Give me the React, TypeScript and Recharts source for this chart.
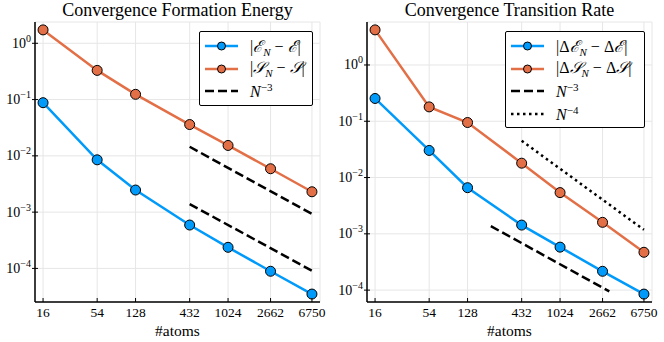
import React from 'react';
import { ComposedChart, Line, XAxis, YAxis, CartesianGrid, Legend } from 'recharts';

const atoms = [16, 54, 128, 432, 1024, 2662, 6750];
const xTicks = [16, 54, 128, 432, 1024, 2662, 6750];

// formation energy errors
const errE = [0.088, 0.0085, 0.00247, 5.9e-4, 2.37e-4, 8.9e-5, 3.5e-5];
const errS = [1.73, 0.33, 0.124, 0.036, 0.0153, 0.0059, 0.0023];

// transition rate errors
const errDE = [0.254, 0.0303, 0.0066, 1.43e-3, 5.8e-4, 2.16e-4, 8.5e-5];
const errDS = [4.2, 0.18, 0.095, 0.018, 5.4e-3, 1.6e-3, 4.7e-4];

// reference slopes (end points)
const guideAX = [432, 6750];
const guideAUpper = [0.0145, 9.3e-4];
const guideALower = [1.39e-3, 9.1e-5];
const guideBX = [216, 3100];
const guideB3 = [1.37e-3, 9.5e-5];
const guideB4X = [432, 6750];
const guideB4 = [0.045, 1.18e-3];

const yTicksLeft = [1e-4, 1e-3, 1e-2, 1e-1, 1];
const yTicksRight = [1e-4, 1e-3, 1e-2, 1e-1, 1];

const BLUE = '#009AFA';
const ORANGE = '#E36F47';
const SERIF = '"Liberation Serif", "DejaVu Serif", serif';

const toPoints = (xs: number[], ys: number[]) => xs.map((x, i) => ({ x, y: ys[i] }));

const PLOT_LEFT = 35;
const PLOT_BOTTOM = 302;

const YTick = (props: any) => {
  const { x, y, payload } = props;
  const exp = Math.round(Math.log10(payload.value));
  const label = exp < 0 ? `\u2212${-exp}` : `${exp}`;
  return (
    <g>
      <line x1={PLOT_LEFT - 3} x2={PLOT_LEFT + 3} y1={y} y2={y} stroke="#000" strokeWidth={1} />
      <text x={x} y={y + 4.5} textAnchor="end" style={{ fontFamily: SERIF, fontSize: 14 }} fill="#000">
        10<tspan dy={-6} style={{ fontSize: 10 }}>{label}</tspan>
      </text>
    </g>
  );
};

const XTick = (props: any) => {
  const { x, y, payload } = props;
  return (
    <g>
      <line x1={x} x2={x} y1={PLOT_BOTTOM - 4} y2={PLOT_BOTTOM} stroke="#000" strokeWidth={1} />
      <text x={x} y={y} dy="0.71em" textAnchor="middle" style={{ fontFamily: SERIF, fontSize: 13.5 }} fill="#000">
        {payload.value}
      </text>
    </g>
  );
};

type Item = { label: React.ReactNode; color: string; kind: 'marker' | 'dash' | 'dot' };

const makeLegend = (items: Item[], width: number) => () => (
  <div
    style={{
      width,
      boxSizing: 'border-box',
      border: '1px solid #000',
      borderRadius: 2,
      background: '#fff',
      padding: '3px 0 2px 0',
      fontFamily: SERIF,
      fontSize: 16,
      color: '#000',
    }}
  >
    {items.map((it, i) => (
      <div key={i} style={{ display: 'flex', alignItems: 'center', height: 22.5 }}>
        <svg width={50} height={12} style={{ flex: 'none' }}>
          {it.kind === 'marker' && (
            <>
              <line x1={5} x2={38} y1={6} y2={6} stroke={it.color} strokeWidth={2.5} />
              <circle cx={21.5} cy={6} r={4} fill={it.color} stroke="#000" strokeWidth={1} />
            </>
          )}
          {it.kind === 'dash' && (
            <line x1={5} x2={38} y1={6} y2={6} stroke="#000" strokeWidth={2.5} strokeDasharray="9 4" />
          )}
          {it.kind === 'dot' && (
            <line x1={5} x2={38} y1={6} y2={6} stroke="#000" strokeWidth={2.5} strokeDasharray="2.5 3.5" />
          )}
        </svg>
        <span style={{ whiteSpace: 'nowrap' }}>{it.label}</span>
      </div>
    ))}
  </div>
);

const Abs = ({ a, b, d }: { a: string; b: string; d?: boolean }) => (
  <span>
    |{d ? '\u0394' : ''}
    <span style={{ fontStyle: 'italic' }}>{a}</span>
    <sub style={{ fontSize: 11, fontStyle: 'italic' }}>N</sub> {'\u2212'} {d ? '\u0394' : ''}
    <span style={{ fontStyle: 'italic' }}>{b}</span>|
  </span>
);

const PowN = ({ p }: { p: number }) => (
  <span>
    <i>N</i>
    <sup style={{ fontSize: 11 }}>{'\u2212'}{p}</sup>
  </span>
);

const legendLeft: Item[] = [
  { label: <Abs a={'\u2130'} b={'\u2130'} />, color: BLUE, kind: 'marker' },
  { label: <Abs a={'\uD835\uDCAE'} b={'\uD835\uDCAE'} />, color: ORANGE, kind: 'marker' },
  { label: <PowN p={3} />, color: '#000', kind: 'dash' },
];

const legendRight: Item[] = [
  { label: <Abs a={'\u2130'} b={'\u2130'} d />, color: BLUE, kind: 'marker' },
  { label: <Abs a={'\uD835\uDCAE'} b={'\uD835\uDCAE'} d />, color: ORANGE, kind: 'marker' },
  { label: <PowN p={3} />, color: '#000', kind: 'dash' },
  { label: <PowN p={4} />, color: '#000', kind: 'dot' },
];

const Panel = ({
  title,
  yDomain,
  yTicks,
  children,
  legend,
  legendPos,
}: {
  title: string;
  yDomain: [number, number];
  yTicks: number[];
  children: React.ReactNode;
  legend: () => React.ReactNode;
  legendPos: { left: number; top: number; width: number };
}) => (
  <div style={{ position: 'relative', width: 332, height: 342 }}>
    <div
      style={{
        position: 'absolute',
        left: 35,
        width: 285,
        top: 0,
        textAlign: 'center',
        fontFamily: SERIF,
        fontSize: 18,
        lineHeight: '20px',
        color: '#000',
        zIndex: 2,
      }}
    >
      {title}
    </div>
    <ComposedChart width={332} height={342} margin={{ top: 22, right: 12, bottom: 0, left: 0 }}>
      <CartesianGrid stroke="#e6e6e6" strokeWidth={1} />
      <XAxis
        dataKey="x"
        type="number"
        scale="log"
        domain={[13.35, 8090]}
        allowDataOverflow
        ticks={xTicks}
        interval={0}
        height={40}
        tickSize={0}
        tickMargin={5}
        tick={<XTick />}
        axisLine={{ stroke: '#000', strokeWidth: 1.5 }}
        label={{
          value: '#atoms',
          position: 'insideBottom',
          offset: 6,
          style: { fontFamily: SERIF, fontSize: 15.5 },
          fill: '#000',
        }}
      />
      <YAxis
        dataKey="y"
        type="number"
        scale="log"
        domain={yDomain}
        allowDataOverflow
        ticks={yTicks}
        interval={0}
        width={35}
        tickSize={4}
        tickMargin={0}
        tickLine={false}
        tick={<YTick />}
        axisLine={{ stroke: '#000', strokeWidth: 1.5 }}
      />
      {children}
      <Legend
        layout="horizontal"
        verticalAlign="middle"
        align="center"
        content={legend}
        wrapperStyle={{ position: 'absolute', left: legendPos.left, top: legendPos.top, width: legendPos.width }}
      />
    </ComposedChart>
  </div>
);

const seriesLine = (key: string, pts: { x: number; y: number }[], color: string) => (
  <Line
    key={key}
    data={pts}
    dataKey="y"
    stroke={color}
    strokeWidth={2.5}
    dot={{ r: 5, fill: color, stroke: '#000', strokeWidth: 1 }}
    activeDot={false}
    isAnimationActive={false}
    legendType="none"
  />
);

const guideLine = (key: string, pts: { x: number; y: number }[], dash: string) => (
  <Line
    key={key}
    data={pts}
    dataKey="y"
    stroke="#000"
    strokeWidth={2.5}
    strokeDasharray={dash}
    dot={false}
    activeDot={false}
    isAnimationActive={false}
    legendType="none"
  />
);

export default function App() {
  return (
    <div
      style={{
        position: 'absolute',
        left: 0,
        top: 0,
        width: 664,
        height: 342,
        display: 'flex',
        background: '#fff',
      }}
    >
      <Panel
        title="Convergence Formation Energy"
        yDomain={[2.53e-5, 2.39]}
        yTicks={yTicksLeft}
        legend={makeLegend(legendLeft, 114)}
        legendPos={{ left: 199, top: 31, width: 114 }}
      >
        {seriesLine('e', toPoints(atoms, errE), BLUE)}
        {seriesLine('s', toPoints(atoms, errS), ORANGE)}
        {guideLine('ga1', toPoints(guideAX, guideAUpper), '9 4')}
        {guideLine('ga2', toPoints(guideAX, guideALower), '9 4')}
      </Panel>
      <Panel
        title="Convergence Transition Rate"
        yDomain={[6.15e-5, 5.8]}
        yTicks={yTicksRight}
        legend={makeLegend(legendRight, 140)}
        legendPos={{ left: 173, top: 31, width: 140 }}
      >
        {seriesLine('de', toPoints(atoms, errDE), BLUE)}
        {seriesLine('ds', toPoints(atoms, errDS), ORANGE)}
        {guideLine('gb3', toPoints(guideBX, guideB3), '9 4')}
        {guideLine('gb4', toPoints(guideB4X, guideB4), '2.5 3.5')}
      </Panel>
    </div>
  );
}
